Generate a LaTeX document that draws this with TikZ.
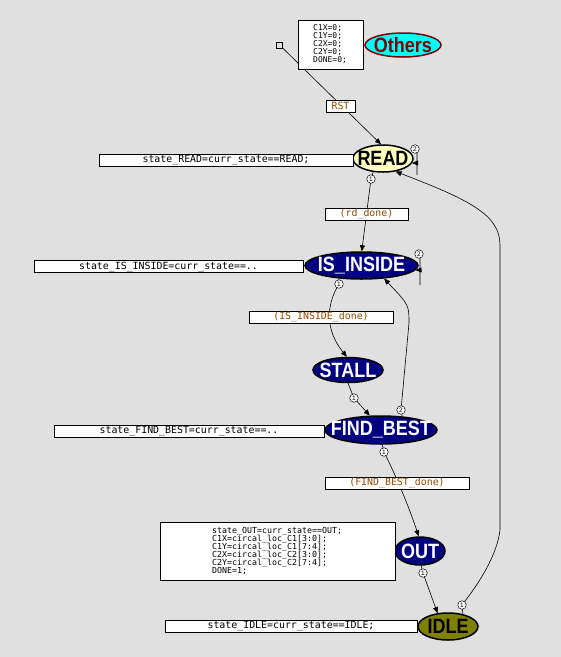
\documentclass[tikz,border=0pt]{standalone}
\usepackage{fontspec}
\setmainfont{Liberation Sans}
\setsansfont{Liberation Sans}
\setmonofont{DejaVu Sans Mono}
\usetikzlibrary{arrows.meta,shapes.geometric}
\definecolor{bg}{RGB}{224,224,224}
\definecolor{stnavy}{RGB}{0,0,128}
\definecolor{stpale}{RGB}{255,255,192}
\definecolor{stolive}{RGB}{128,128,0}
\definecolor{stmaroon}{RGB}{128,0,0}
\definecolor{stcyan}{RGB}{0,255,255}
\definecolor{lbl}{RGB}{150,75,0}
\newcommand\statelbl[1]{\scalebox{1}[1.15]{#1}}
\newcommand\tightlines{\lineskiplimit=-20pt\relax}
\tikzset{
  state/.style={ellipse, draw=black, line width=1.5pt, inner sep=0pt},
  stext/.style={font=\fontsize{18}{18}\selectfont\sffamily\bfseries, inner sep=0pt},
  act/.style={draw=black, fill=white, line width=0.8pt, inner sep=0pt, font=\fontsize{9.9}{10}\selectfont\ttfamily},
  elab/.style={act, text=lbl},
  num/.style={circle, draw=black, fill=white, line width=0.5pt, minimum size=8.5pt, inner sep=0pt, font=\fontsize{6.5}{6.5}\selectfont\sffamily},
  edge/.style={draw=black, line width=0.6pt},
  arr/.style={edge, -{Triangle[length=6pt,width=5pt]}},
  multi/.style={inner sep=0pt, align=left, anchor=north west},
}
\begin{document}
\begin{tikzpicture}[x=1pt,y=-1pt]
\fill[bg] (0,0) rectangle (561,657);
\useasboundingbox (0,0) rectangle (561,657);

% states
\node[state, fill=stpale, minimum width=60pt, minimum height=27pt] (READ) at (383,158.5) {};
\node[state, fill=stnavy, minimum width=113pt, minimum height=27pt] (ISIN) at (361.5,265.5) {};
\node[state, fill=stnavy, minimum width=70pt, minimum height=25pt] (STALL) at (348,370) {};
\node[state, fill=stnavy, minimum width=112pt, minimum height=28pt] (FB) at (381,430) {};
\node[state, fill=stnavy, minimum width=50pt, minimum height=28pt] (OUT) at (420,551) {};
\node[state, fill=stolive, minimum width=60pt, minimum height=27pt] (IDLE) at (448,626.5) {};
\node[state, draw=stmaroon, fill=stcyan, minimum width=76pt, minimum height=24pt] (OTH) at (403,45) {};

\node[draw=black, fill=bg, minimum size=6pt, inner sep=0pt, line width=0.8pt] (init) at (279.5,45) {};

% coordinates for circled numbers
\coordinate (r1) at (371,179);
\coordinate (r2) at (415,149);
\coordinate (i1) at (339,284);
\coordinate (i2) at (419,254);
\coordinate (s1) at (354,398);
\coordinate (f2) at (401,410);
\coordinate (f1) at (384,452);
\coordinate (o1) at (423,573);
\coordinate (d1) at (462,605);
% bend points
\coordinate (rl1) at (417,152);
\coordinate (rl2) at (417,175);
\coordinate (rl3) at (417,163);
\coordinate (il1) at (420,257);
\coordinate (il2) at (420,285);
\coordinate (il3) at (420,270);
\coordinate (fb1) at (409,323);
\coordinate (ra) at (500,530);
\coordinate (rb) at (500,245);

% edges
\draw[arr] (init) -- (READ.98);
\draw[arr] (READ.-126) -- (r1) -- (ISIN.89);
\draw[edge] (r2) -- (rl1) -- (rl2);
\draw[arr] (rl3) -- (READ.-9);
\draw[arr] (ISIN.-150) -- (i1) .. controls (326,305) and (325,330) .. (STALL.95);
\draw[edge] (i2) -- (il1) -- (il2);
\draw[arr] (il3) -- (ISIN.-5);
\draw[arr] (STALL.-90) -- (s1) -- (FB.128);
\draw[arr] (FB.33) -- (f2) -- (fb1) .. controls (409,305) .. (ISIN.-30);
\draw[arr] (FB.-85) -- (f1) .. controls (398,480) and (410,510) .. (OUT.95);
\draw[arr] (OUT.-85) -- (o1) -- (IDLE.128);
\draw[arr] (IDLE.40) -- (d1) .. controls (480,582) and (497,555) .. (ra) -- (rb)
  .. controls (500,215) and (470,200) .. (READ.-46);

% state texts
\node[stext, text=black] (READt) at (READ) {\statelbl{READ}};
\node[stext, text=white] (ISINt) at (ISIN) {\statelbl{IS\_INSIDE}};
\node[stext, text=white] (STALLt) at (STALL) {\statelbl{STALL}};
\node[stext, text=white] (FBt) at (FB) {\statelbl{FIND\_BEST}};
\node[stext, text=white] (OUTt) at (OUT) {\statelbl{OUT}};
\node[stext, text=black] (IDLEt) at (IDLE) {\statelbl{IDLE}};
\node[stext, text=stmaroon] (OTHt) at (OTH) {\statelbl{Others}};

% action boxes
\node[act, minimum width=65pt, minimum height=49pt] (initact) at (330.5,44.5) {};
\node[multi, font=\fontsize{8}{8}\selectfont\ttfamily\tightlines] (initactt) at (313,24)
  {C1X=0;\\C1Y=0;\\C2X=0;\\C2Y=0;\\DONE=0;};
\node[act, minimum width=254pt, minimum height=12pt] (READa) at (226,160) {state\_READ=curr\_state==READ;};
\node[act, minimum width=269pt, minimum height=12pt] (ISINa) at (168.5,266.5) {state\_IS\_INSIDE=curr\_state==..};
\node[act, minimum width=270pt, minimum height=12pt] (FBa) at (189,431) {state\_FIND\_BEST=curr\_state==..};
\node[act, minimum width=235pt, minimum height=58pt] (OUTa) at (277.5,551) {};
\node[multi, font=\fontsize{8.3}{8}\selectfont\ttfamily\tightlines] (OUTat) at (212,527.5)
  {state\_OUT=curr\_state==OUT;\\C1X=circal\_loc\_C1[3:0];\\C1Y=circal\_loc\_C1[7:4];\\C2X=circal\_loc\_C2[3:0];\\C2Y=circal\_loc\_C2[7:4];\\DONE=1;};
\node[act, minimum width=252pt, minimum height=12.5pt] (IDLEa) at (291,626.5) {state\_IDLE=curr\_state==IDLE;};

% edge labels
\node[elab, minimum width=29pt, minimum height=12pt] (lRST) at (340.5,106) {RST};
\node[elab, minimum width=83pt, minimum height=12pt] (lrd) at (366.5,214) {(rd\_done)};
\node[elab, minimum width=144pt, minimum height=12pt] (lis) at (321,317) {(IS\_INSIDE\_done)};
\node[elab, minimum width=144pt, minimum height=12pt] (lfb) at (397,483) {(FIND\_BEST\_done)};

% circled numbers
\node[num] (r1n) at (r1) {1};
\node[num] (r2n) at (r2) {2};
\node[num] (i1n) at (i1) {1};
\node[num] (i2n) at (i2) {2};
\node[num] (s1n) at (s1) {1};
\node[num] (f2n) at (f2) {2};
\node[num] (f1n) at (f1) {1};
\node[num] (o1n) at (o1) {1};
\node[num] (d1n) at (d1) {1};
\end{tikzpicture}
\end{document}
